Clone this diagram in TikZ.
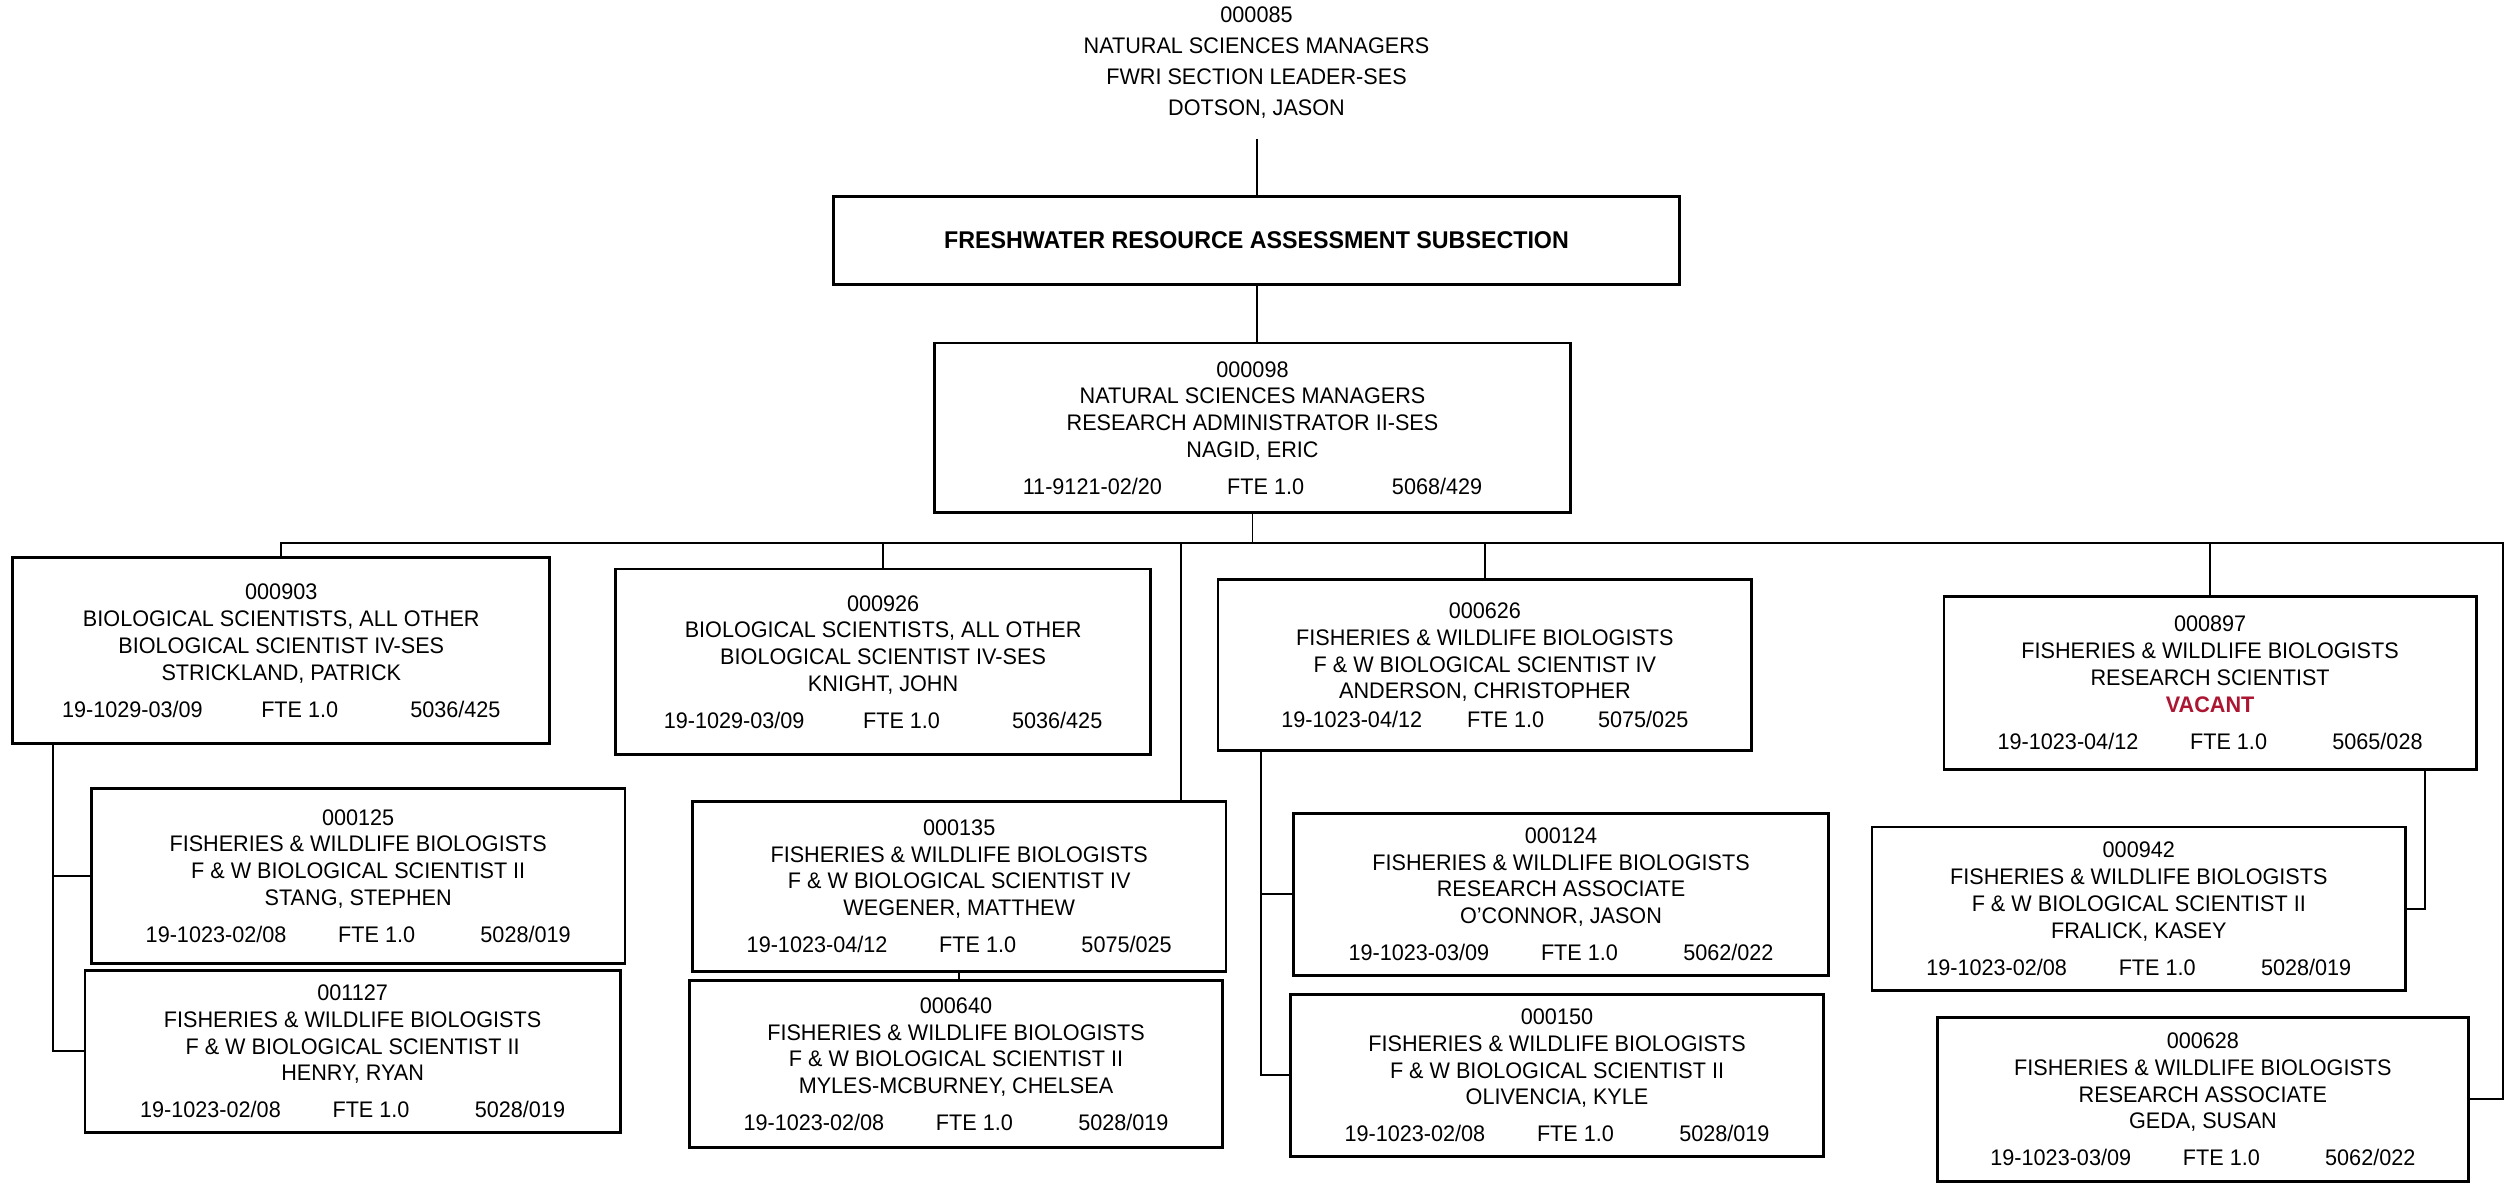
\documentclass[tikz,border=0pt]{standalone}
\usepackage{fontspec}
\setmainfont{Liberation Sans}[FakeStretch=0.96]
\usetikzlibrary{positioning}

\definecolor{vacantred}{RGB}{172,22,50}
\newcommand{\px}{0.02cm}
\newcommand{\ftegapa}{\hspace{2.3em}}
\newcommand{\ftegapb}{\hspace{2.9em}}

\tikzset{
	posbox/.style={draw, line width=1pt, inner sep=0pt, align=center,
		font=\fontsize{8}{9.5}\selectfont},
	link/.style={line width=0.7pt},
}

\begin{document}
\begin{tikzpicture}[x=\px, y=-\px]
			\path[use as bounding box, fill=white](0,0) rectangle (1568,740);
			% section leader (no box)
			\node[align=center, inner sep=0pt, font=\fontsize{8}{11}\selectfont] (top) at(784,39)
				{000085\\NATURAL SCIENCES MANAGERS\\FWRI SECTION LEADER-SES\\DOTSON, JASON};
			\node[posbox, minimum width=528*\px, minimum height=55*\px, font=\bfseries\fontsize{8.6}{10}\selectfont] (sub) at(784,150)
				{FRESHWATER RESOURCE ASSESSMENT SUBSECTION};
			\node[posbox, minimum width=397*\px, minimum height=106*\px] (nagid) at(781.5,267)
				{000098\\NATURAL SCIENCES MANAGERS\\RESEARCH ADMINISTRATOR II-SES\\NAGID, ERIC\\[3.6pt]11-9121-02/20\hspace{2.9em}FTE 1.0\hspace{3.9em}5068/429};
			% first row
			\node[posbox, minimum width=335*\px, minimum height=116*\px] (n903) at(175.5,406)
				{000903\\BIOLOGICAL SCIENTISTS, ALL OTHER\\BIOLOGICAL SCIENTIST IV-SES\\STRICKLAND, PATRICK\\[3.6pt]19-1029-03/09\hspace{2.6em}FTE 1.0\hspace{3.2em}5036/425};
			\node[posbox, minimum width=334*\px, minimum height=116*\px] (n926) at(551,413)
				{000926\\BIOLOGICAL SCIENTISTS, ALL OTHER\\BIOLOGICAL SCIENTIST IV-SES\\KNIGHT, JOHN\\[3.6pt]19-1029-03/09\hspace{2.6em}FTE 1.0\hspace{3.2em}5036/425};
			\node[posbox, minimum width=333*\px, minimum height=107*\px] (n626) at(926.5,415)
				{000626\\FISHERIES \& WILDLIFE BIOLOGISTS\\F \& W BIOLOGICAL SCIENTIST IV\\ANDERSON, CHRISTOPHER\\[0.5pt]19-1023-04/12\hspace{2em}FTE 1.0\hspace{2.4em}5075/025};
			\node[posbox, minimum width=332*\px, minimum height=108*\px] (n897) at(1379,426)
				{000897\\FISHERIES \& WILDLIFE BIOLOGISTS\\RESEARCH SCIENTIST\\\textcolor{vacantred}{\bfseries VACANT}\\[3.6pt]19-1023-04/12\ftegapa FTE 1.0\ftegapb 5065/028};
			% second row
			\node[posbox, minimum width=333*\px, minimum height=109*\px] (n125) at(223.5,546.5)
				{000125\\FISHERIES \& WILDLIFE BIOLOGISTS\\F \& W BIOLOGICAL SCIENTIST II\\STANG, STEPHEN\\[3.6pt]19-1023-02/08\ftegapa FTE 1.0\ftegapb 5028/019};
			\node[posbox, minimum width=333*\px, minimum height=106*\px] (n135) at(598.5,553)
				{000135\\FISHERIES \& WILDLIFE BIOLOGISTS\\F \& W BIOLOGICAL SCIENTIST IV\\WEGENER, MATTHEW\\[3.6pt]19-1023-04/12\ftegapa FTE 1.0\ftegapb 5075/025};
			\node[posbox, minimum width=334*\px, minimum height=101*\px] (n124) at(974,558)
				{000124\\FISHERIES \& WILDLIFE BIOLOGISTS\\RESEARCH ASSOCIATE\\O'CONNOR, JASON\\[3.6pt]19-1023-03/09\ftegapa FTE 1.0\ftegapb 5062/022};
			\node[posbox, minimum width=333*\px, minimum height=102*\px] (n942) at(1334.5,567)
				{000942\\FISHERIES \& WILDLIFE BIOLOGISTS\\F \& W BIOLOGICAL SCIENTIST II\\FRALICK, KASEY\\[3.6pt]19-1023-02/08\ftegapa FTE 1.0\ftegapb 5028/019};
			% third row
			\node[posbox, minimum width=334*\px, minimum height=101*\px] (n1127) at(220,656)
				{001127\\FISHERIES \& WILDLIFE BIOLOGISTS\\F \& W BIOLOGICAL SCIENTIST II\\HENRY, RYAN\\[3.6pt]19-1023-02/08\ftegapa FTE 1.0\ftegapb 5028/019};
			\node[posbox, minimum width=333*\px, minimum height=104*\px] (n640) at(596.5,664)
				{000640\\FISHERIES \& WILDLIFE BIOLOGISTS\\F \& W BIOLOGICAL SCIENTIST II\\MYLES-MCBURNEY, CHELSEA\\[3.6pt]19-1023-02/08\ftegapa FTE 1.0\ftegapb 5028/019};
			\node[posbox, minimum width=333*\px, minimum height=101*\px] (n150) at(971.5,671)
				{000150\\FISHERIES \& WILDLIFE BIOLOGISTS\\F \& W BIOLOGICAL SCIENTIST II\\OLIVENCIA, KYLE\\[3.6pt]19-1023-02/08\ftegapa FTE 1.0\ftegapb 5028/019};
			\node[posbox, minimum width=331*\px, minimum height=102*\px] (n628) at(1374.5,686)
				{000628\\FISHERIES \& WILDLIFE BIOLOGISTS\\RESEARCH ASSOCIATE\\GEDA, SUSAN\\[3.6pt]19-1023-03/09\ftegapa FTE 1.0\ftegapb 5062/022};
			% bus and spines
			\coordinate (bus) at(780,339);
			\coordinate (busR) at(1562,339);
			\coordinate (tap) at(737,339);
			\coordinate (spineL) at(33,0);
			\coordinate (spineM) at(787,0);
			\coordinate (spineR) at(1513,0);
			\draw[link, shorten <=7pt](top.south)--(sub.north);
			\draw[link](sub.south)--(sub.south |- nagid.north);
			\draw[link](nagid.south)--(nagid.south |- bus);
			\draw[link](n903.north)|-(busR)|-(n628.east);
			\draw[link](n926.north)--(n926.north |- bus);
			\draw[link](n626.north)--(n626.north |- bus);
			\draw[link](n897.north)--(n897.north |- bus);
			\draw[link](tap)--(tap |- n135.north);
			\draw[link](n135.south)--(n135.south |- n640.north);
			\draw[link](n903.south -| spineL)|-(n1127.west);
			\draw[link](n125.west -| spineL)--(n125.west);
			\draw[link](n626.south -| spineM)|-(n150.west);
			\draw[link](n124.west -| spineM)--(n124.west);
			\draw[link](n897.south -| spineR)|-(n942.east);
\end{tikzpicture}
\end{document}
